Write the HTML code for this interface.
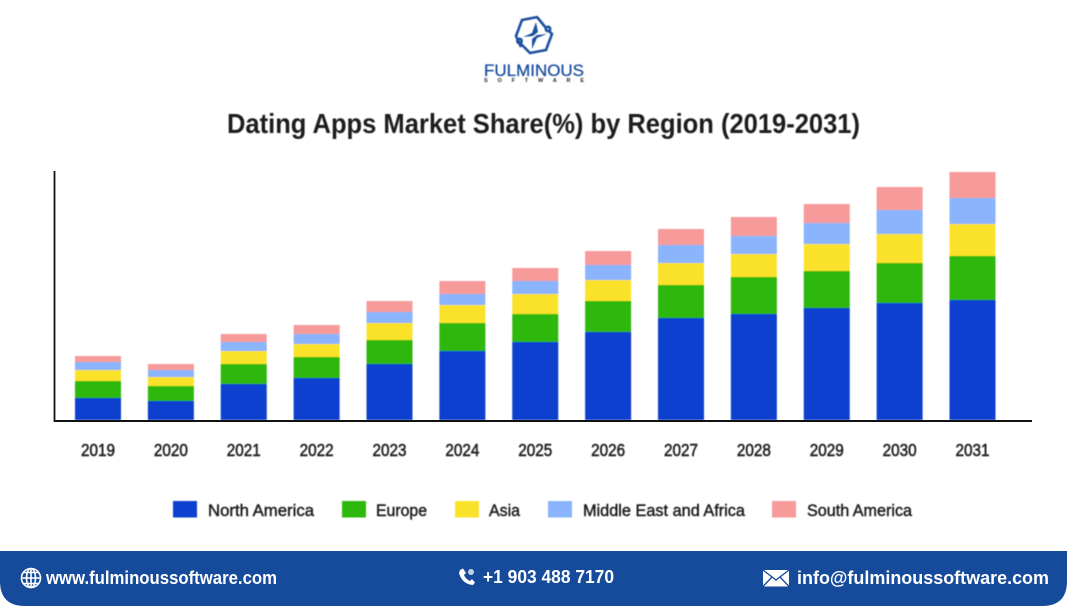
<!DOCTYPE html>
<html lang="en">
<head>
<meta charset="utf-8">
<title>Dating Apps Market Share(%) by Region (2019-2031)</title>
<style>
html,body{margin:0;padding:0;background:#fff;width:1067px;height:606px;overflow:hidden}
svg{display:block;font-family:"Liberation Sans",sans-serif}
</style>
</head>
<body>
<svg id="chart" xmlns="http://www.w3.org/2000/svg" width="1067" height="606" viewBox="0 0 1067 606">
  <defs>
    <filter id="softer" x="-5%" y="-20%" width="110%" height="140%"><feGaussianBlur stdDeviation="0.4"/></filter>
  </defs>
  <rect width="1067" height="606" fill="#ffffff"/>

  <g filter="url(#softer)">
    <g fill="none" stroke="#1b4f9f" stroke-width="2.6">
      <path d="M537.5 17 L522 20 L516 36 L521 47"/>
      <path d="M537 17 L546 28"/>
      <path d="M519 42 L530 53 L546 50 L552 34 L549 31"/>
      <circle cx="548" cy="29" r="2.2"/>
      <circle cx="519.5" cy="41" r="2.2"/>
    </g>
    <path d="M536 22 L532 33 L523 37 L533 36 L538 32 Z M532 49 L537 38 L547 34 L537 35 L532 39 Z" fill="#1b4f9f"/>
    <text x="484" y="76" font-size="16.5" fill="#1b4f9f" stroke="#1b4f9f" stroke-width="0.3" textLength="100" lengthAdjust="spacingAndGlyphs">FULMINOUS</text>
    <text x="484" y="82" font-size="5.5" font-weight="700" fill="#222" textLength="100" lengthAdjust="spacing">SOFTWARE</text>
  </g>

  <text x="227" y="133" font-size="27.5" font-weight="700" fill="#1c1c1e" textLength="633" lengthAdjust="spacingAndGlyphs" filter="url(#softer)">Dating Apps Market Share(%) by Region (2019-2031)</text>

  <g id="bars" filter="url(#softer)"></g>
  <line x1="54.5" y1="171" x2="54.5" y2="422" stroke="#111" stroke-width="1.8"/>
  <line x1="54" y1="421" x2="1032" y2="421" stroke="#111" stroke-width="2"/>
  <g id="ticks" filter="url(#softer)"></g>
  <g id="legend" filter="url(#softer)"></g>

  <path d="M0 551 H1067 V581 Q1067 606 1042 606 H25 Q0 606 0 581 Z" fill="#164a9a"/>

  <g>
    <g fill="none" stroke="#fff" stroke-width="1.6">
      <circle cx="31" cy="578" r="9.5"/>
      <ellipse cx="31" cy="578" rx="4.5" ry="9.5"/>
      <path d="M31 568.5 V587.5 M21.5 578 H40.5 M23 572.5 H39 M23 583.5 H39"/>
    </g>
    <text x="46" y="584" font-size="18" font-weight="700" fill="#fff" textLength="231" lengthAdjust="spacingAndGlyphs">www.fulminoussoftware.com</text>
  </g>
  <g>
    <path d="M460 570 L463 568.5 L466 573 L464 575 Q465.500 579 470 581 L472 579 L475 582.500 L473 585 Q462 584 459 573 Z" fill="#fff"/>
    <circle cx="471" cy="572" r="3" fill="#c5d2e6"/>
    <text x="483" y="583" font-size="18" font-weight="700" fill="#fff" textLength="131" lengthAdjust="spacingAndGlyphs">+1 903 488 7170</text>
  </g>
  <g>
    <g>
      <rect x="763" y="570" width="26" height="16.500" fill="#fff"/>
      <path d="M763 570 L776 580 L789 570 M763 586.500 L772 577 M789 586.500 L780 577" fill="none" stroke="#164a9a" stroke-width="1.300"/>
    </g>
    <text x="797" y="584" font-size="18" font-weight="700" fill="#fff" textLength="252" lengthAdjust="spacingAndGlyphs">info@fulminoussoftware.com</text>
  </g>
</svg>
<script>
const categories = ["2019","2020","2021","2022","2023","2024","2025","2026","2027","2028","2029","2030","2031"];
const northAmerica = [22,19,36,42,56,69,78,88,102,106,112,117,120];
const europe = [17,15,20,21,24,28,28,31,33,37,37,40,44];
const asia = [11,9,13,13,17,18,20,21,22,23,27,29,32];
const middleEastAfrica = [8,7,9,10,11,11,13,15,18,18,21,24,26];
const southAmerica = [6,6,8,9,11,13,13,14,16,19,19,23,26];
const seriesNames = ["North America","Europe","Asia","Middle East and Africa","South America"];
const seriesSlugs = ["north-america","europe","asia","middle-east-africa","south-america"];
const seriesColors = ["#0b3fce","#2db70b","#fbe22a","#8ab4fb","#f79a9a"];
const seriesValues = [northAmerica, europe, asia, middleEastAfrica, southAmerica];

const SVG_NS = "http://www.w3.org/2000/svg";
const plotBottom = 420;
const plotHeight = 250;
const yMax = 250;
const firstCenter = 98;
const lastCenter = 972.5;
const barWidth = 46;

function yScale(v) {
  return plotBottom - (v / yMax) * plotHeight;
}
function xCenter(i) {
  return firstCenter + i * (lastCenter - firstCenter) / (categories.length - 1);
}

const barsGroup = document.getElementById("bars");
categories.forEach(function (cat, i) {
  let cumulative = 0;
  seriesValues.forEach(function (values, s) {
    const v = values[i];
    const top = yScale(cumulative + v);
    const bottom = yScale(cumulative);
    const r = document.createElementNS(SVG_NS, "rect");
    r.setAttribute("x", xCenter(i) - barWidth / 2);
    r.setAttribute("y", top);
    r.setAttribute("width", barWidth);
    r.setAttribute("height", bottom - top);
    r.setAttribute("fill", seriesColors[s]);
    
    
    barsGroup.appendChild(r);
    cumulative += v;
  });
});

const ticksGroup = document.getElementById("ticks");
categories.forEach(function (cat, i) {
  const t = document.createElementNS(SVG_NS, "text");
  t.setAttribute("x", xCenter(i));
  t.setAttribute("y", 456);
  t.setAttribute("text-anchor", "middle");
  t.setAttribute("font-size", "17.5");
  t.setAttribute("fill", "#1c1c1e");
  t.setAttribute("stroke", "#1c1c1e");
  t.setAttribute("stroke-width", "0.55");
  t.setAttribute("textLength", "34");
  t.setAttribute("lengthAdjust", "spacingAndGlyphs");
  
  
  t.textContent = cat;
  ticksGroup.appendChild(t);
});

const legendSwatchX = [173, 342, 455, 548, 772];
const legendLabelX = [208, 376, 489, 583, 807];
const legendLabelW = [106, 51, 31, 162, 105];
const legendGroup = document.getElementById("legend");
seriesNames.forEach(function (name, s) {
  const sw = document.createElementNS(SVG_NS, "rect");
  sw.setAttribute("x", legendSwatchX[s]);
  sw.setAttribute("y", 501);
  sw.setAttribute("width", 24);
  sw.setAttribute("height", 16.5);
  sw.setAttribute("fill", seriesColors[s]);
  
  
  legendGroup.appendChild(sw);
  const t = document.createElementNS(SVG_NS, "text");
  t.setAttribute("x", legendLabelX[s]);
  t.setAttribute("y", 516);
  t.setAttribute("font-size", "17");
  t.setAttribute("fill", "#1c1c1e");
  t.setAttribute("stroke", "#1c1c1e");
  t.setAttribute("stroke-width", "0.45");
  t.setAttribute("textLength", legendLabelW[s]);
  t.setAttribute("lengthAdjust", "spacingAndGlyphs");
  
  
  t.textContent = name;
  legendGroup.appendChild(t);
});
</script>
</body>
</html>
